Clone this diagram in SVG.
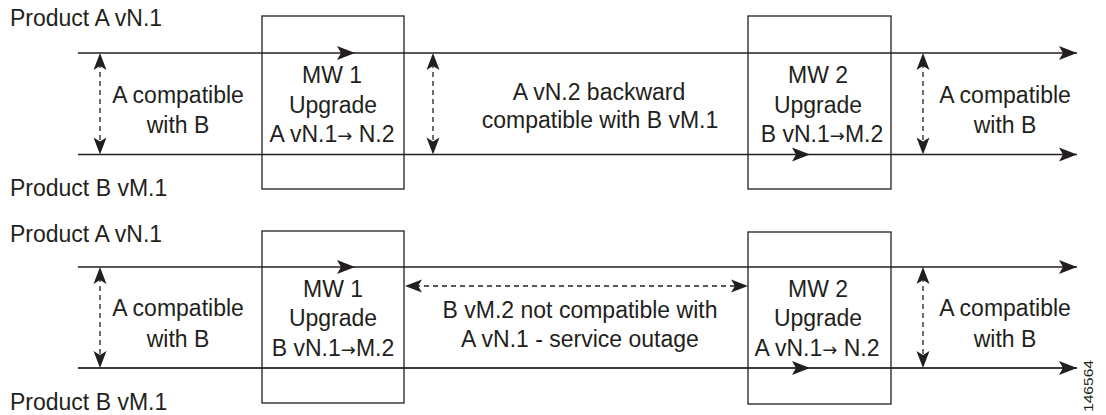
<svg xmlns="http://www.w3.org/2000/svg" width="1106" height="415" viewBox="0 0 1106 415">
<style>
text{font-family:"Liberation Sans",Arial,Helvetica,sans-serif;font-size:23px;fill:#231f20}
.m{text-anchor:middle}
.ar{font-family:"DejaVu Sans",sans-serif;font-size:18px}
.box{fill:none;stroke:#231f20;stroke-width:1.3}
.ln{fill:none;stroke:#231f20;stroke-width:1.4;marker-mid:url(#ah);marker-end:url(#ah)}
.ln2{fill:none;stroke:#3c3c3c;stroke-width:1.8;marker-mid:url(#ah);marker-end:url(#ah)}
.da{fill:none;stroke:#231f20;stroke-width:1.3;stroke-dasharray:5 4;marker-start:url(#dh);marker-end:url(#dh)}
.id{font-size:13px}
</style>
<defs>
<marker id="ah" markerUnits="userSpaceOnUse" markerWidth="24" markerHeight="20" viewBox="-20 -10 24 20" refX="0" refY="0" orient="auto" overflow="visible">
<path d="M0,0 L-18,-7 L-14,0 L-18,7 Z" fill="#231f20"/>
</marker>
<marker id="dh" markerUnits="userSpaceOnUse" markerWidth="24" markerHeight="20" viewBox="-10 -10 24 20" refX="0" refY="0" orient="auto-start-reverse" overflow="visible">
<path d="M10,0 L-7,-6.5 L-3,0 L-7,6.5 Z" fill="#231f20"/>
</marker>
</defs>
<rect width="1106" height="415" fill="#fff"/>

<g id="connectors">
<path class="ln" d="M78,53 L355,53 L1077,53"/>
<path class="ln" d="M78,154.5 L810,154.5 L1077,154.5"/>
<path class="ln" d="M78,267 L355,267 L1077,267"/>
<path class="ln2" d="M78,368 L810,368 L1077,368"/>
<path class="da" d="M100,63 L100,144.5"/>
<path class="da" d="M433,63 L433,144.5"/>
<path class="da" d="M923,63 L923,144.5"/>
<path class="da" d="M100,277 L100,358"/>
<path class="da" d="M923,277 L923,358"/>
<path class="da" d="M415,286 L738,286"/>
</g>

<g id="labels-top">
<text x="10" y="26">Product A vN.1</text>
<text x="10" y="196">Product B vM.1</text>
<text class="m" x="178" y="103">A compatible</text>
<text class="m" x="178" y="133">with B</text>
<text class="m" x="599" y="100">A vN.2 backward</text>
<text class="m" x="600" y="128">compatible with B vM.1</text>
<text class="m" x="1005" y="103">A compatible</text>
<text class="m" x="1005" y="133">with B</text>
</g>

<g id="mw1-top">
<rect class="box" x="262" y="16" width="142" height="173"/>
<text class="m" x="332" y="83">MW 1</text>
<text class="m" x="333" y="113">Upgrade</text>
<text class="m" x="332" y="142">A vN.1<tspan class="ar">→</tspan> N.2</text>
</g>

<g id="mw2-top">
<rect class="box" x="748" y="16" width="143" height="173"/>
<text class="m" x="818" y="83">MW 2</text>
<text class="m" x="818" y="113">Upgrade</text>
<text class="m" x="822" y="142">B vN.1<tspan class="ar">→</tspan>M.2</text>
</g>

<g id="labels-bottom">
<text x="10" y="242">Product A vN.1</text>
<text x="10" y="410">Product B vM.1</text>
<text class="m" x="178" y="316">A compatible</text>
<text class="m" x="178" y="347">with B</text>
<text class="m" x="580" y="318">B vM.2 not compatible with</text>
<text class="m" x="580" y="347">A vN.1 - service outage</text>
<text class="m" x="1005" y="316">A compatible</text>
<text class="m" x="1005" y="347">with B</text>
</g>

<g id="mw1-bottom">
<rect class="box" x="262" y="231" width="142" height="172"/>
<text class="m" x="333" y="297">MW 1</text>
<text class="m" x="333" y="326">Upgrade</text>
<text class="m" x="333" y="356">B vN.1<tspan class="ar">→</tspan>M.2</text>
</g>

<g id="mw2-bottom">
<rect class="box" x="748" y="232" width="143" height="172"/>
<text class="m" x="818" y="297">MW 2</text>
<text class="m" x="818" y="326">Upgrade</text>
<text class="m" x="817" y="356">A vN.1<tspan class="ar">→</tspan> N.2</text>
</g>

<text class="id" transform="translate(1093,412) rotate(-90)" textLength="52" lengthAdjust="spacingAndGlyphs">146564</text>
</svg>
